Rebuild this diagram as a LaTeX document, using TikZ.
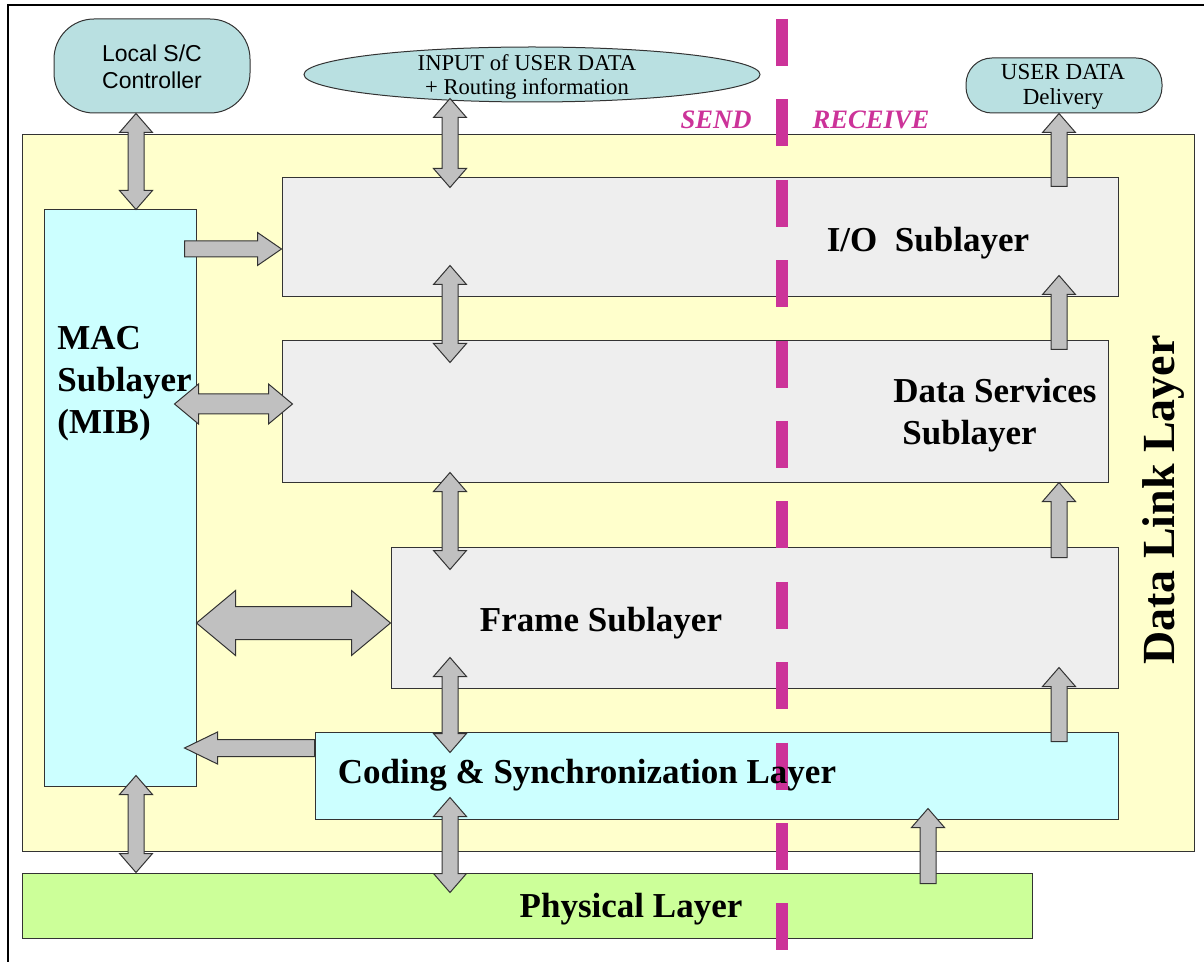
\documentclass[tikz,border=0pt]{standalone}
\usepackage{fontspec}
\setmainfont{Liberation Serif}
\newfontfamily\arialfont{Liberation Sans}
\usepackage{xcolor}
\usetikzlibrary{shapes.geometric,positioning,calc,fit}

\definecolor{dllyellow}{HTML}{FFFFCC}
\definecolor{subgray}{HTML}{EEEEEE}
\definecolor{maccyan}{HTML}{CCFFFF}
\definecolor{phygreen}{HTML}{CCFF99}
\definecolor{ovalteal}{HTML}{B9E0E1}
\definecolor{arrowgray}{HTML}{C0C0C0}
\definecolor{sendmag}{HTML}{CC3399}

\tikzset{
  box/.style={draw=black!80, line width=0.5pt, inner sep=0pt},
  bigfont/.style={font=\bfseries\fontsize{17.5}{21}\selectfont},
  blockarrow/.style={draw=black!80, fill=arrowgray, line width=0.5pt, line join=miter},
  fatboth/.style n args={3}{to path={let \p1=(\tikztostart), \p2=(\tikztotarget),
      \p3=($(\p1)!#3!(\p2)$), \p4=($(\p2)!#3!(\p1)$) in
      (\p1) -- ($(\p3)!#2!90:(\p2)$) -- ($(\p3)!#1!90:(\p2)$)
      -- ($(\p4)!#1!-90:(\p1)$) -- ($(\p4)!#2!-90:(\p1)$) -- (\p2)
      -- ($(\p4)!#2!90:(\p1)$) -- ($(\p4)!#1!90:(\p1)$)
      -- ($(\p3)!#1!-90:(\p2)$) -- ($(\p3)!#2!-90:(\p2)$) -- cycle}},
  fatone/.style n args={3}{to path={let \p1=(\tikztostart), \p2=(\tikztotarget),
      \p4=($(\p2)!#3!(\p1)$) in
      ($(\p1)!#1!90:(\p2)$) -- ($(\p4)!#1!-90:(\p1)$) -- ($(\p4)!#2!-90:(\p1)$)
      -- (\p2) -- ($(\p4)!#2!90:(\p1)$) -- ($(\p4)!#1!90:(\p1)$)
      -- ($(\p1)!#1!-90:(\p2)$) -- cycle}},
  vboth/.style={fatboth={4pt}{8.25pt}{9.5pt}},
  vone/.style={fatone={4pt}{8.25pt}{9.5pt}},
}

\begin{document}
\begin{tikzpicture}[x=0.5pt, y=-0.5pt]
    \useasboundingbox (0,0) rectangle (1204,962);
    \draw[line width=1.3pt] (8,962) -- (8,5) -- (1204,5);

    % layers
    \node[box, fill=dllyellow, fit={(22,135) (1194,851)}] (dll) {};
    \node[box, fill=ovalteal, rounded corners=20pt, fit={(54,19) (250,113)}] (ctrl) {};
    \node[box, fill=ovalteal, ellipse, minimum width=228pt, minimum height=27.5pt] (inp) at (532,74.5) {};
    \node[box, fill=ovalteal, rounded corners=13pt, fit={(966,58) (1162,113)}] (dlv) {};
    \node[box, fill=subgray, fit={(282,178) (1118,297)}] (io) {};
    \node[box, fill=subgray, fit={(282,341) (1108,482)}] (ds) {};
    \node[box, fill=subgray, fit={(391,547) (1118,688)}] (fr) {};
    \node[box, fill=maccyan, fit={(44,210) (196,786)}] (mac) {};
    \node[box, fill=maccyan, fit={(315,732) (1118,819)}] (cod) {};
    \node[box, fill=phygreen, fit={(22,873) (1032,938)}] (phy) {};

    % send / receive border
    \draw[sendmag, line width=6pt, dash pattern=on 23.5pt off 16.7pt] (782,19) -- (782,950);

    % arrow columns and rows
    \coordinate (cL) at (136,0);
    \coordinate (cM) at (450,0);
    \coordinate (cP) at (928,0);
    \coordinate (cR) at (1059,0);
    \coordinate (rIO) at (0,249);
    \coordinate (rDS) at (0,404);
    \coordinate (rFR) at (0,623);
    \coordinate (rCD) at (0,748);

    \draw[blockarrow] (ctrl.south -| cL) to[vboth] (mac.north -| cL);
    \draw[blockarrow] ($(inp.south -| cM)+(0,-4)$) to[vboth] ($(io.north -| cM)+(0,10)$);
    \draw[blockarrow] ($(io.south -| cM)+(0,-32)$) to[vboth] ($(ds.north -| cM)+(0,22)$);
    \draw[blockarrow] ($(ds.south -| cM)+(0,-10)$) to[vboth] ($(fr.north -| cM)+(0,23)$);
    \draw[blockarrow] ($(fr.south -| cM)+(0,-31)$) to[vboth] ($(cod.north -| cM)+(0,21)$);
    \draw[blockarrow] ($(cod.south -| cM)+(0,-22)$) to[vboth] ($(phy.north -| cM)+(0,20)$);
    \draw[blockarrow] ($(mac.south -| cL)+(0,-11)$) to[vboth] (phy.north -| cL);

    \draw[blockarrow] ($(io.north -| cR)+(0,9)$) to[vone] (dlv.south -| cR);
    \draw[blockarrow] ($(ds.north -| cR)+(0,9)$) to[vone] ($(io.south -| cR)+(0,-22)$);
    \draw[blockarrow] ($(fr.north -| cR)+(0,11)$) to[vone] (ds.south -| cR);
    \draw[blockarrow] ($(cod.north -| cR)+(0,10)$) to[vone] ($(fr.south -| cR)+(0,-21)$);
    \draw[blockarrow] ($(phy.north -| cP)+(0,11)$) to[vone] ($(cod.south -| cP)+(0,-11)$);

    \draw[blockarrow] ($(mac.east |- rIO)+(-12,0)$) to[fatone={4pt}{8.25pt}{12pt}] (io.west |- rIO);
    \draw[blockarrow] ($(mac.east |- rDS)+(-22,0)$) to[fatboth={5pt}{10pt}{12pt}] ($(ds.west |- rDS)+(11,0)$);
    \draw[blockarrow] (mac.east |- rFR) to[fatboth={8.25pt}{16.25pt}{19.5pt}] (fr.west |- rFR);
    \draw[blockarrow] (cod.west |- rCD) to[fatone={4.25pt}{8pt}{16.5pt}] ($(mac.east |- rCD)+(-12,0)$);

    % labels
    \node[font=\arialfont\fontsize{11.5}{13.5}\selectfont, align=center] (ctrltext) at (152,67) {Local S/C\\Controller};
    \node[font=\fontsize{11.3}{12}\selectfont, align=center] (inptext) at (527,77) {INPUT of USER DATA\\+ Routing information};
    \node[font=\fontsize{11.5}{12.5}\selectfont, align=center] (dlvtext) at (1063,87) {USER DATA\\Delivery};
    \node[font=\bfseries\itshape\fontsize{13.3}{16}\selectfont, text=sendmag] (send) at (716,120) {SEND};
    \node[font=\bfseries\itshape\fontsize{13.3}{16}\selectfont, text=sendmag] (recv) at (871,120) {RECEIVE};
    \node[bigfont] (iotext) at (928,243) {I/O\ \ Sublayer};
    \node[bigfont, align=left, anchor=west, inner sep=0pt] (dstext) at (893,415) {Data Services\\\hspace{4.5pt}Sublayer};
    \node[bigfont] (frtext) at (601,623) {Frame Sublayer};
    \node[bigfont] (codtext) at (587,775) {Coding \& Synchronization Layer};
    \node[bigfont] (phytext) at (631,909) {Physical Layer};
    \node[bigfont, align=left, anchor=west, inner sep=0pt] (mactext) at (57,384) {MAC\\Sublayer\\(MIB)};
    \node[font=\bfseries\fontsize{23}{28}\selectfont, rotate=90] (dlltext) at (1163,500) {Data Link Layer};
\end{tikzpicture}
\end{document}
